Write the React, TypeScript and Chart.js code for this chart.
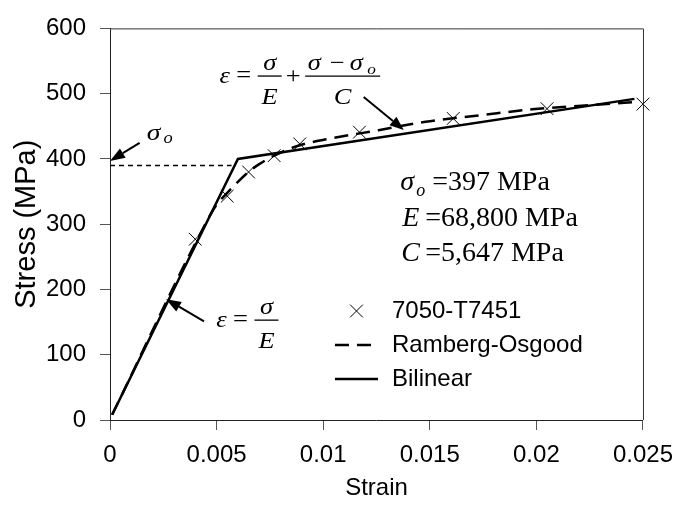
import React, { useEffect, useRef } from 'react';
import { Chart, registerables } from 'chart.js';

Chart.register(...registerables);

// ---- data ----
const testStrain = [0.004, 0.0055, 0.0065, 0.0077, 0.0089, 0.0117, 0.0161, 0.0205, 0.025];
const testStress = [277, 343, 380, 405, 423, 441, 462, 477, 484];

const roStrain = [0.0001, 0.0045, 0.005, 0.0055, 0.006, 0.0065, 0.007, 0.0077, 0.0089, 0.0103, 0.0126, 0.0148, 0.0174, 0.0198, 0.0233, 0.0245];
const roStress = [8, 302, 330, 348, 365, 380, 392, 405, 421, 431, 444, 457, 467, 476, 484, 487];

const bilinearStrain = [0.0001, 0.006, 0.0246];
const bilinearStress = [8, 400, 492];

const sigmaOStrain = [0, 0.0057];
const sigmaOStress = [390, 390];

const xTickValues = [0, 0.005, 0.01, 0.015, 0.02, 0.025];
const xTickLabels = ['0', '0.005', '0.01', '0.015', '0.02', '0.025'];
const yTickValues = [0, 100, 200, 300, 400, 500, 600];
const yTickLabels = ['0', '100', '200', '300', '400', '500', '600'];

const seriesLabels = ['7050-T7451', 'Ramberg-Osgood', 'Bilinear'];

const SANS = '"Liberation Sans", Arial, sans-serif';
const SERIF = '"Liberation Serif", "Times New Roman", serif';

const toPoints = (xs: number[], ys: number[]) => xs.map((x, i) => ({ x, y: ys[i] }));

// annotation anchors in data coordinates
const annot = {
  sigmaOLabel: { x: 0.00204, y: 429.6 },
  sigmaOArrowFrom: { x: 0.00139, y: 424.7 },
  sigmaOArrowTo: { x: 0, y: 397 },
  lowerEq: { x: 0.00612, y: 153 },
  lowerArrowFrom: { x: 0.00441, y: 151 },
  lowerArrowTo: { x: 0.00263, y: 185.2 },
  upperEq: { x: 0.00627, y: 527 },
  upperArrowFrom: { x: 0.0119, y: 494.8 },
  upperArrowTo: { x: 0.01378, y: 444.4 },
  params: { x: 0.01361, y: 352.6 },
};

function drawText(ctx: CanvasRenderingContext2D, text: string, x: number, y: number, font: string, align: CanvasTextAlign = 'center', sx = 1) {
  ctx.save();
  ctx.font = font;
  ctx.textAlign = align;
  ctx.textBaseline = 'alphabetic';
  ctx.translate(x, y);
  ctx.scale(sx, 1);
  ctx.fillText(text, 0, 0);
  ctx.restore();
}

function drawArrow(ctx: CanvasRenderingContext2D, x1: number, y1: number, x2: number, y2: number, headLen = 14, headW = 5.5) {
  const ang = Math.atan2(y2 - y1, x2 - x1);
  const bx = x2 - Math.cos(ang) * headLen;
  const by = y2 - Math.sin(ang) * headLen;
  ctx.save();
  ctx.strokeStyle = '#000';
  ctx.fillStyle = '#000';
  ctx.lineWidth = 2;
  ctx.beginPath();
  ctx.moveTo(x1, y1);
  ctx.lineTo(bx, by);
  ctx.stroke();
  ctx.beginPath();
  ctx.moveTo(x2, y2);
  ctx.lineTo(bx + Math.sin(ang) * headW, by - Math.cos(ang) * headW);
  ctx.lineTo(bx - Math.sin(ang) * headW, by + Math.cos(ang) * headW);
  ctx.closePath();
  ctx.fill();
  ctx.restore();
}

const EQ_IT = `italic 23px ${SERIF}`;
const EQ_RM = `23px ${SERIF}`;
const EQ_SUB = `italic 15px ${SERIF}`;
const SX = 1.15;

function drawBar(ctx: CanvasRenderingContext2D, cx: number, y: number, w: number) {
  ctx.save();
  ctx.strokeStyle = '#000';
  ctx.lineWidth = 1.3;
  ctx.beginPath();
  ctx.moveTo(cx - w / 2, y);
  ctx.lineTo(cx + w / 2, y);
  ctx.stroke();
  ctx.restore();
}

// epsilon = sigma / E  (x,y = centre of the '=' at the fraction-bar height)
function drawSimpleEq(ctx: CanvasRenderingContext2D, x: number, y: number) {
  drawText(ctx, 'ε', x - 19, y + 7, EQ_IT, 'center', SX);
  drawText(ctx, '=', x, y + 6, EQ_RM, 'center', SX);
  drawBar(ctx, x + 26, y, 24);
  drawText(ctx, 'σ', x + 26, y - 6, EQ_IT, 'center', SX);
  drawText(ctx, 'E', x + 26, y + 27.5, EQ_IT, 'center', SX);
}

function drawFullEq(ctx: CanvasRenderingContext2D, x: number, y: number) {
  drawSimpleEq(ctx, x, y);
  drawText(ctx, '+', x + 49.5, y + 6.5, EQ_RM, 'center', SX);
  const fc = x + 99;
  drawBar(ctx, fc, y, 75);
  drawText(ctx, 'σ', fc - 28.5, y - 6, EQ_IT, 'center', SX);
  drawText(ctx, '−', fc - 5.5, y - 6, EQ_RM, 'center', SX);
  drawText(ctx, 'σ', fc + 13.5, y - 6, EQ_IT, 'center', SX);
  drawText(ctx, 'o', fc + 29, y - 2, EQ_SUB, 'center', SX);
  drawText(ctx, 'C', fc, y + 27.5, EQ_IT, 'center', SX);
}

const annotationPlugin = {
  id: 'annotations',
  afterDatasetsDraw(chart: any) {
    const ctx: CanvasRenderingContext2D = chart.ctx;
    const xs = chart.scales.x;
    const ys = chart.scales.y;
    const P = (p: { x: number; y: number }) => [xs.getPixelForValue(p.x), ys.getPixelForValue(p.y)];
    ctx.save();
    ctx.fillStyle = '#000';

    // sigma_o label and arrow
    const [sx, sy] = P(annot.sigmaOLabel);
    drawText(ctx, 'σ', sx, sy, `italic 24px ${SERIF}`, 'center', 1.15);
    drawText(ctx, 'o', sx + 14.5, sy + 3.5, `italic 16px ${SERIF}`, 'center', 1.15);
    const [a1x, a1y] = P(annot.sigmaOArrowFrom);
    const [a2x, a2y] = P(annot.sigmaOArrowTo);
    drawArrow(ctx, a1x, a1y, a2x, a2y, 15, 5.5);

    // lower equation
    const [lx, ly] = P(annot.lowerEq);
    drawSimpleEq(ctx, lx, ly);
    const [b1x, b1y] = P(annot.lowerArrowFrom);
    const [b2x, b2y] = P(annot.lowerArrowTo);
    drawArrow(ctx, b1x, b1y, b2x, b2y, 15, 5.5);

    // upper equation
    const [ux, uy] = P(annot.upperEq);
    drawFullEq(ctx, ux, uy);
    const [c1x, c1y] = P(annot.upperArrowFrom);
    const [c2x, c2y] = P(annot.upperArrowTo);
    drawArrow(ctx, c1x, c1y, c2x, c2y, 14, 5.5);

    // parameter block
    const [px, py] = P(annot.params);
    const IT = `italic 28px ${SERIF}`;
    const RM = `28px ${SERIF}`;
    drawText(ctx, 'σ', px, py, IT, 'left');
    drawText(ctx, 'o', px + 16, py + 6, `italic 18px ${SERIF}`, 'left');
    drawText(ctx, '=397 MPa', px + 32, py, RM, 'left');
    drawText(ctx, 'E', px + 2, py + 36, IT, 'left');
    drawText(ctx, '=68,800 MPa', px + 25, py + 36, RM, 'left');
    drawText(ctx, 'C', px + 1, py + 71, IT, 'left');
    drawText(ctx, '=5,647 MPa', px + 25, py + 71, RM, 'left');
    ctx.restore();
  },
};

const framePlugin = {
  id: 'frame',
  afterDraw(chart: any) {
    const { ctx, chartArea } = chart;
    ctx.save();
    ctx.strokeStyle = '#333';
    ctx.lineWidth = 1;
    ctx.beginPath();
    ctx.moveTo(chartArea.left, chartArea.top + 0.5);
    ctx.lineTo(chartArea.right + 0.5, chartArea.top + 0.5);
    ctx.lineTo(chartArea.right + 0.5, chartArea.bottom);
    ctx.stroke();
    ctx.restore();
  },
};

const legendPlugin = {
  id: 'customLegend',
  afterDraw(chart: any) {
    const { ctx, chartArea } = chart;
    const lineStart = chartArea.right - 308;
    const lineLen = 43;
    const textX = lineStart + 57;
    const rowOffsets = [109, 75, 41];
    const items = chart.data.datasets.filter((d: any) => !d.legendHidden);
    ctx.save();
    items.forEach((ds: any, i: number) => {
      const y = chartArea.bottom - rowOffsets[i];
      ctx.strokeStyle = ds.borderColor;
      if (ds.showLine) {
        ctx.lineWidth = ds.borderWidth;
        ctx.setLineDash(ds.borderDash || []);
        ctx.beginPath();
        ctx.moveTo(lineStart, y);
        ctx.lineTo(lineStart + lineLen, y);
        ctx.stroke();
        ctx.setLineDash([]);
      } else {
        const cx = lineStart + lineLen / 2;
        const h = ds.pointRadius * Math.SQRT1_2;
        ctx.lineWidth = ds.borderWidth;
        ctx.beginPath();
        ctx.moveTo(cx - h, y - h);
        ctx.lineTo(cx + h, y + h);
        ctx.moveTo(cx - h, y + h);
        ctx.lineTo(cx + h, y - h);
        ctx.stroke();
      }
      ctx.fillStyle = '#000';
      ctx.font = `24px ${SANS}`;
      ctx.textAlign = 'left';
      ctx.textBaseline = 'middle';
      ctx.fillText(ds.label, textX, y);
    });
    ctx.restore();
  },
};

export default function App() {
  const ref = useRef<HTMLCanvasElement>(null);

  useEffect(() => {
    const canvas = ref.current;
    if (!canvas) return;
    const tickFont = { family: SANS, size: 24 };
    const chart = new Chart(canvas, {
      type: 'scatter',
      data: {
        datasets: [
          {
            label: seriesLabels[0],
            data: toPoints(testStrain, testStress),
            showLine: false,
            pointStyle: 'crossRot',
            pointRadius: 9,
            pointHoverRadius: 9,
            borderColor: '#000',
            backgroundColor: '#000',
            borderWidth: 1,
            clip: false,
          } as any,
          {
            label: seriesLabels[1],
            data: toPoints(roStrain, roStress),
            showLine: true,
            pointRadius: 0,
            borderColor: '#000',
            borderWidth: 2.5,
            borderDash: [14, 8],
            cubicInterpolationMode: 'monotone',
            fill: false,
          } as any,
          {
            label: seriesLabels[2],
            data: toPoints(bilinearStrain, bilinearStress),
            showLine: true,
            pointRadius: 0,
            borderColor: '#000',
            borderWidth: 2.5,
            fill: false,
          } as any,
          {
            label: 'σo',
            legendHidden: true,
            data: toPoints(sigmaOStrain, sigmaOStress),
            showLine: true,
            pointRadius: 0,
            borderColor: '#000',
            borderWidth: 1.4,
            borderDash: [5, 4],
            fill: false,
          } as any,
        ],
      },
      options: {
        responsive: false,
        animation: false,
        devicePixelRatio: 1,
        events: [],
        layout: { padding: { left: 0, right: 36, top: 15, bottom: 0 } },
        plugins: {
          legend: { display: false },
          tooltip: { enabled: false },
        },
        scales: {
          x: {
            type: 'linear',
            min: 0,
            max: 0.025,
            afterBuildTicks: (s: any) => {
              s.ticks = xTickValues.map((v) => ({ value: v }));
            },
            afterFit: (s: any) => {
              s.height = 92;
            },
            ticks: {
              autoSkip: false,
              maxRotation: 0,
              padding: 11,
              color: '#000',
              font: tickFont,
              callback: (_v: any, i: number) => xTickLabels[i],
            },
            grid: { drawOnChartArea: false, drawTicks: true, tickLength: 10, color: '#555' },
            border: { color: '#222', width: 1 },
            title: {
              display: true,
              text: 'Strain',
              color: '#000',
              font: { family: SANS, size: 24 },
              padding: { top: 0, bottom: 9 },
            },
          },
          y: {
            type: 'linear',
            min: 0,
            max: 600,
            afterBuildTicks: (s: any) => {
              s.ticks = yTickValues.map((v) => ({ value: v }));
            },
            afterFit: (s: any) => {
              s.width = 110;
            },
            ticks: {
              autoSkip: false,
              padding: 14,
              color: '#000',
              font: tickFont,
              callback: (_v: any, i: number) => yTickLabels[i],
            },
            grid: { drawOnChartArea: false, drawTicks: true, tickLength: 10, color: '#555' },
            border: { color: '#222', width: 1 },
            title: {
              display: true,
              text: 'Stress (MPa)',
              color: '#000',
              font: { family: SANS, size: 29 },
              padding: { top: 10, bottom: 0 },
            },
          },
        },
      },
      plugins: [framePlugin, annotationPlugin, legendPlugin],
    });
    return () => chart.destroy();
  }, []);

  return (
    <div style={{ position: 'fixed', left: 0, top: 0, width: 684, height: 512, background: '#fff' }}>
      <canvas ref={ref} width={684} height={512} style={{ display: 'block' }} />
    </div>
  );
}
